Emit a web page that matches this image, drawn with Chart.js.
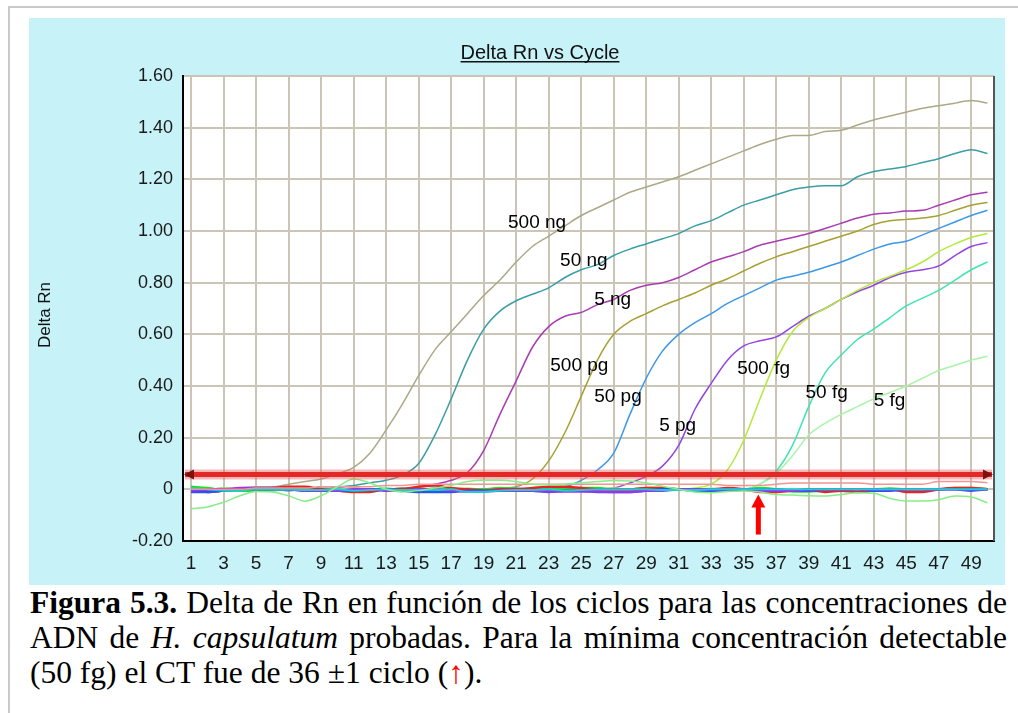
<!DOCTYPE html>
<html>
<head>
<meta charset="utf-8">
<script src="https://cdn.jsdelivr.net/npm/chart.js@4.4.1/dist/chart.umd.min.js"></script>
<style>
  html, body { margin: 0; padding: 0; background: #fff; width: 1018px; height: 713px; overflow: hidden; }
  .frame { position: absolute; left: 8px; top: 6px; width: 1100px; height: 800px; border-left: 2px solid #c9c9c9; border-top: 2px solid #c9c9c9; }
  .box { position: absolute; left: 29px; top: 18px; width: 976px; height: 567px; background: #c7f2f8; }
  .caption { position: absolute; left: 30px; top: 585px; width: 977px; font-family: "Liberation Serif", "Times New Roman", serif; font-size: 31.5px; line-height: 35px; color: #000; }
  .j { text-align: justify; text-align-last: justify; }
</style>
</head>
<body>
<div class="frame"></div>
<div class="box"><canvas class="js-chart"></canvas></div>
<div class="caption">
  <div class="j"><b>Figura 5.3.</b> Delta de Rn en función de los ciclos para las concentraciones de</div>
  <div class="j">ADN de <i>H. capsulatum</i> probadas. Para la mínima concentración detectable</div>
  <div>(50 fg) el CT fue de 36 ±1 ciclo (<span style="color:#f00">↑</span>).</div>
</div>
<script>
// ciclos y etiquetas del eje X
const cycles = [1,2,3,4,5,6,7,8,9,10,11,12,13,14,15,16,17,18,19,20,21,22,23,24,25,26,27,28,29,30,31,32,33,34,35,36,37,38,39,40,41,42,43,44,45,46,47,48,49,50];
const xTicks = [1,3,5,7,9,11,13,15,17,19,21,23,25,27,29,31,33,35,37,39,41,43,45,47,49];

// curvas de amplificación (Delta Rn por ciclo)
const s500ng = [0.00,0.005,0.00,0.005,0.01,0.01,0.02,0.03,0.04,0.06,0.085,0.14,0.23,0.33,0.44,0.54,0.61,0.68,0.75,0.81,0.88,0.94,0.98,1.02,1.06,1.09,1.12,1.15,1.17,1.19,1.21,1.235,1.26,1.285,1.31,1.335,1.355,1.37,1.37,1.385,1.39,1.41,1.43,1.445,1.46,1.475,1.485,1.495,1.505,1.495];
const s50ng = [0.00,0.00,-0.005,0.00,0.00,0.005,0.00,0.00,0.01,0.01,0.015,0.025,0.035,0.055,0.10,0.21,0.35,0.50,0.62,0.69,0.73,0.755,0.78,0.82,0.85,0.87,0.905,0.93,0.95,0.97,0.99,1.02,1.04,1.07,1.10,1.12,1.14,1.16,1.17,1.175,1.175,1.21,1.23,1.24,1.25,1.265,1.28,1.30,1.315,1.30];
const s5ng = [0.00,-0.005,0.00,0.00,0.005,0.00,0.00,-0.005,0.00,0.00,0.005,0.00,0.00,0.005,0.01,0.02,0.035,0.065,0.15,0.29,0.42,0.55,0.63,0.67,0.685,0.715,0.735,0.77,0.79,0.80,0.82,0.85,0.88,0.90,0.92,0.945,0.96,0.975,0.99,1.01,1.03,1.05,1.065,1.07,1.077,1.08,1.10,1.12,1.14,1.15];
const s500pg = [0.005,0.00,0.00,-0.005,0.00,0.00,0.005,0.00,0.00,0.00,-0.005,0.00,0.00,0.005,0.00,0.00,0.005,0.00,0.00,0.005,0.01,0.04,0.11,0.22,0.36,0.50,0.60,0.65,0.68,0.71,0.735,0.76,0.79,0.815,0.845,0.875,0.90,0.92,0.94,0.96,0.98,1.00,1.025,1.04,1.045,1.05,1.06,1.08,1.10,1.11];
const s50pg = [0.00,0.00,0.005,0.00,-0.005,-0.005,0.00,0.00,0.00,0.005,0.00,-0.005,0.00,0.00,0.00,0.005,0.00,-0.005,0.00,0.00,0.005,0.00,0.005,0.01,0.035,0.075,0.14,0.29,0.43,0.535,0.60,0.645,0.68,0.72,0.75,0.78,0.81,0.825,0.84,0.86,0.88,0.905,0.93,0.95,0.96,0.985,1.01,1.035,1.06,1.08];
const s5pg = [0.00,-0.005,-0.005,0.00,0.00,0.00,-0.005,0.00,0.00,0.005,0.00,0.00,-0.005,0.00,0.00,0.00,-0.005,-0.005,0.00,0.00,0.00,-0.005,0.00,0.00,-0.005,0.00,0.005,0.025,0.05,0.09,0.17,0.31,0.41,0.50,0.555,0.575,0.59,0.63,0.67,0.70,0.735,0.765,0.79,0.82,0.84,0.85,0.865,0.905,0.94,0.955];
const s500fg = [0.00,0.00,0.005,0.00,0.00,-0.005,0.00,0.00,0.00,0.00,0.005,0.00,0.00,0.00,-0.005,0.00,0.00,0.005,0.00,0.00,0.00,0.00,-0.005,0.00,0.00,0.00,0.005,0.00,0.00,0.00,0.00,0.005,0.02,0.075,0.19,0.35,0.50,0.61,0.665,0.70,0.735,0.77,0.80,0.825,0.85,0.88,0.92,0.95,0.975,0.99];
const s50fg = [0.00,0.005,0.00,0.00,0.00,0.00,-0.005,0.00,0.00,0.00,0.00,0.00,0.005,0.00,0.00,0.00,0.00,-0.005,0.00,0.00,0.00,0.00,0.00,0.005,0.00,0.00,0.00,0.00,-0.005,0.00,0.00,0.00,0.00,0.00,0.00,0.02,0.07,0.17,0.32,0.45,0.52,0.58,0.62,0.665,0.71,0.74,0.77,0.81,0.85,0.88];
const s5fg = [0.00,0.00,0.00,0.005,0.00,0.00,0.00,0.00,-0.005,0.00,0.00,0.00,0.00,0.00,0.005,0.00,0.00,0.00,0.00,0.00,-0.005,0.00,0.00,0.00,0.00,0.005,0.00,0.00,0.00,0.00,0.00,0.00,0.005,0.00,0.00,0.02,0.062,0.13,0.21,0.255,0.29,0.32,0.35,0.375,0.40,0.43,0.46,0.48,0.50,0.515];

// pozos sin amplificación (ruido de línea base)
const nGreen = [0.01,0.005,-0.005,-0.005,-0.005,0.0,0.0,0.0,0.0,-0.005,-0.005,-0.005,0.0,0.0,-0.005,-0.005,0.0,0.0,0.0,0.005,0.0,-0.005,0.0,0.0,0.005,0.005,0.0,0.0,0.005,0.005,0.0,-0.005,-0.005,0.0,0.0,0.005,0.0,-0.008,-0.008,-0.005,-0.005,0.0,0.0,0.003,0.0,0.0,0.0,0.005,0.005,0.0];
const nRed = [0.0,-0.01,-0.005,0.0,0.0,0.005,0.01,0.01,0.0,-0.005,-0.01,-0.01,0.0,0.0,0.01,0.015,0.005,0.0,-0.005,0.0,0.0,0.005,0.01,0.01,0.005,0.0,0.0,0.0,0.005,0.005,0.0,0.0,0.0,0.005,0.0,-0.01,-0.01,-0.005,-0.002,-0.01,-0.005,-0.01,-0.005,0.0,-0.01,-0.01,0.0,0.005,0.005,0.0];
const nSalmon = [0.0,0.0,0.0,0.0,0.005,0.005,0.005,0.005,0.01,0.01,0.01,0.01,0.015,0.015,0.02,0.02,0.02,0.02,0.02,0.02,0.02,0.02,0.02,0.02,0.02,0.02,0.02,0.02,0.02,0.02,0.02,0.02,0.02,0.015,0.015,0.015,0.02,0.025,0.025,0.025,0.025,0.025,0.02,0.02,0.02,0.02,0.03,0.03,0.03,0.025];
const nBlue = [-0.01,-0.01,-0.005,0.0,0.0,0.0,0.0,-0.005,-0.005,-0.005,-0.005,0.0,0.0,-0.005,-0.01,-0.01,-0.01,-0.005,-0.005,-0.005,-0.005,-0.005,-0.01,-0.005,-0.005,-0.01,-0.01,-0.01,-0.005,0.0,0.0,-0.005,-0.005,-0.005,0.0,0.0,0.0,-0.005,-0.005,0.0,0.0,0.0,-0.005,-0.005,0.0,0.0,0.0,0.0,-0.005,0.0];
const nPurple = [-0.005,0.0,0.0,0.005,0.005,0.005,0.0,-0.005,-0.005,-0.005,0.0,0.0,-0.005,-0.005,0.0,0.0,-0.005,-0.008,-0.008,-0.005,-0.005,-0.005,-0.008,-0.008,-0.008,-0.008,-0.01,-0.01,-0.005,-0.005,0.0,0.0,0.0,0.0,0.0,-0.005,-0.005,-0.005,0.0,0.0,0.0,0.0,0.0,0.0,0.0,0.0,0.0,0.0,0.0,0.0];
const nCyan = [0.005,0.0,-0.005,-0.005,0.0,0.0,0.0,-0.003,-0.003,0.0,-0.005,-0.003,0.0,-0.003,-0.003,-0.003,0.0,-0.01,-0.01,-0.005,-0.003,-0.003,0.0,-0.005,-0.003,0.0,0.0,0.0,0.0,-0.003,-0.003,-0.003,0.0,0.0,0.0,0.0,0.0,0.0,0.0,0.0,0.0,0.0,0.0,0.0,0.0,0.0,0.0,0.0,0.0,0.0];
const nLightGreen = [-0.075,-0.068,-0.05,-0.025,-0.008,-0.01,-0.025,-0.046,-0.025,0.01,0.04,0.025,0.0,-0.01,-0.005,0.005,0.015,0.03,0.035,0.035,0.03,0.02,0.018,0.02,0.025,0.03,0.034,0.032,0.025,0.012,0.0,-0.01,-0.013,-0.008,-0.006,-0.01,-0.02,-0.022,-0.025,-0.026,-0.02,-0.013,-0.015,-0.035,-0.045,-0.045,-0.04,-0.026,-0.03,-0.052];

// umbral (threshold) y CT marcado
const threshold = 0.057;
const ctCycle = 35.9;

// etiquetas de las curvas
const curveLabels = ['500 ng', '50 ng', '5 ng', '500 pg', '50 pg', '5 pg', '500 fg', '50 fg', '5 fg'];
const labelCycle = [20.5, 23.7, 25.8, 23.1, 25.8, 29.8, 34.6, 38.8, 43.0];
const labelValue = [1.03, 0.884, 0.732, 0.48, 0.36, 0.248, 0.468, 0.372, 0.341];

const FONT = '"Liberation Sans", Arial, sans-serif';

const noise = [
  { data: nLightGreen, color: '#86ee86', width: 1.5 },
  { data: nSalmon, color: '#f29494', width: 1.5 },
  { data: nCyan, color: '#22cccc', width: 2 },
  { data: nPurple, color: '#9a32ee', width: 2.5 },
  { data: nBlue, color: '#2a52ee', width: 2.5 },
  { data: nRed, color: '#e62222', width: 2.5 },
  { data: nGreen, color: '#22dd22', width: 2.5 }
];
const amplified = [
  { data: s5fg, color: '#a8f4a8' },
  { data: s50fg, color: '#3ee4b2' },
  { data: s500fg, color: '#b2ea3a' },
  { data: s5pg, color: '#9444e2' },
  { data: s50pg, color: '#3c98e8' },
  { data: s500pg, color: '#a8a032' },
  { data: s5ng, color: '#aa3cb2' },
  { data: s50ng, color: '#3a9ea6' },
  { data: s500ng, color: '#ada886' }
];

const datasets = noise.map(n => ({
  data: n.data, borderColor: n.color, borderWidth: n.width
})).concat(amplified.map(c => ({
  data: c.data, borderColor: c.color, borderWidth: 1.5
})));

// fondo blanco, umbral, flechas y textos
const decorations = {
  id: 'decorations',
  beforeDraw(chart) {
    const { ctx, chartArea: a } = chart;
    ctx.save();
    ctx.fillStyle = '#fff';
    ctx.fillRect(a.left, a.top, a.right - a.left, a.bottom - a.top);
    ctx.restore();
  },
  afterDatasetsDraw(chart) {
    const { ctx, chartArea: a, scales } = chart;
    ctx.save();

    // línea de umbral
    const yT = scales.y.getPixelForValue(threshold);
    ctx.lineCap = 'butt';
    ctx.strokeStyle = 'rgba(236,96,96,0.45)';
    ctx.lineWidth = 10;
    ctx.beginPath(); ctx.moveTo(a.left + 2, yT); ctx.lineTo(a.right - 2, yT); ctx.stroke();
    ctx.strokeStyle = '#e32828';
    ctx.lineWidth = 5;
    ctx.beginPath(); ctx.moveTo(a.left + 2, yT); ctx.lineTo(a.right - 2, yT); ctx.stroke();
    ctx.fillStyle = '#7a1010';
    ctx.beginPath(); ctx.moveTo(a.left + 1, yT); ctx.lineTo(a.left + 11, yT - 5); ctx.lineTo(a.left + 11, yT + 5); ctx.closePath(); ctx.fill();
    ctx.beginPath(); ctx.moveTo(a.right - 1, yT); ctx.lineTo(a.right - 11, yT - 5); ctx.lineTo(a.right - 11, yT + 5); ctx.closePath(); ctx.fill();

    // flecha del CT
    const xa = scales.x.getPixelForValue(ctCycle);
    const yTip = scales.y.getPixelForValue(-0.02);
    const yEnd = scales.y.getPixelForValue(-0.175);
    ctx.fillStyle = '#ff0000';
    ctx.fillRect(xa - 2.5, yTip + 10, 5, yEnd - yTip - 10);
    ctx.beginPath(); ctx.moveTo(xa, yTip); ctx.lineTo(xa - 7, yTip + 13); ctx.lineTo(xa + 7, yTip + 13); ctx.closePath(); ctx.fill();

    // etiquetas de concentración
    ctx.fillStyle = '#000';
    ctx.font = '19px ' + FONT;
    ctx.textAlign = 'left';
    ctx.textBaseline = 'middle';
    curveLabels.forEach((t, i) => {
      ctx.fillText(t, scales.x.getPixelForValue(labelCycle[i]), scales.y.getPixelForValue(labelValue[i]));
    });

    // borde derecho
    ctx.strokeStyle = '#555';
    ctx.lineWidth = 2;
    ctx.beginPath(); ctx.moveTo(a.right, a.top); ctx.lineTo(a.right, a.bottom); ctx.stroke();
    ctx.restore();
  },
  afterDraw(chart) {
    const { ctx } = chart;
    ctx.save();
    ctx.fillStyle = '#111';
    ctx.font = '20px ' + FONT;
    ctx.textAlign = 'center';
    ctx.textBaseline = 'alphabetic';
    const title = 'Delta Rn vs Cycle';
    ctx.fillText(title, 511, 41);
    const w = ctx.measureText(title).width;
    ctx.fillRect(511 - w / 2, 43, w, 1.5);

    ctx.translate(16, 297);
    ctx.rotate(-Math.PI / 2);
    ctx.font = '17px ' + FONT;
    ctx.textBaseline = 'middle';
    ctx.fillText('Delta Rn', 0, 0);
    ctx.restore();
  }
};

window.addEventListener('DOMContentLoaded', () => {
  const $chart = document.querySelector('.js-chart');
  new Chart($chart, {
    type: 'line',
    data: { labels: cycles, datasets: datasets },
    options: {
      animation: { duration: 0 },
      responsive: true,
      maintainAspectRatio: false,
      layout: { padding: { top: 58, right: 11, left: 0, bottom: 0 } },
      elements: {
        point: { radius: 0 },
        line: { cubicInterpolationMode: 'monotone', fill: false }
      },
      plugins: {
        legend: { display: false },
        title: { display: false },
        tooltip: { enabled: false }
      },
      scales: {
        x: {
          type: 'linear',
          min: 0.5,
          max: 50.4,
          afterBuildTicks: s => { s.ticks = xTicks.map(v => ({ value: v })); },
          afterFit: s => { s.height = 44; },
          grid: { color: '#cbc5b8', lineWidth: 2, drawTicks: false },
          border: { color: '#000', width: 2 },
          ticks: { font: { size: 19, family: FONT }, color: '#1a1a1a', padding: 11, autoSkip: false, maxRotation: 0 }
        },
        y: {
          min: -0.2,
          max: 1.6,
          afterFit: s => { s.width = 154; },
          grid: { color: '#cbc5b8', lineWidth: 2, drawTicks: false },
          border: { color: '#000', width: 2 },
          ticks: {
            stepSize: 0.2,
            font: { size: 18, family: FONT },
            color: '#1a1a1a',
            padding: 10,
            callback: v => Math.abs(v) < 1e-9 ? '0' : v.toFixed(2)
          }
        }
      }
    },
    plugins: [decorations]
  });
});
</script>
</body>
</html>
